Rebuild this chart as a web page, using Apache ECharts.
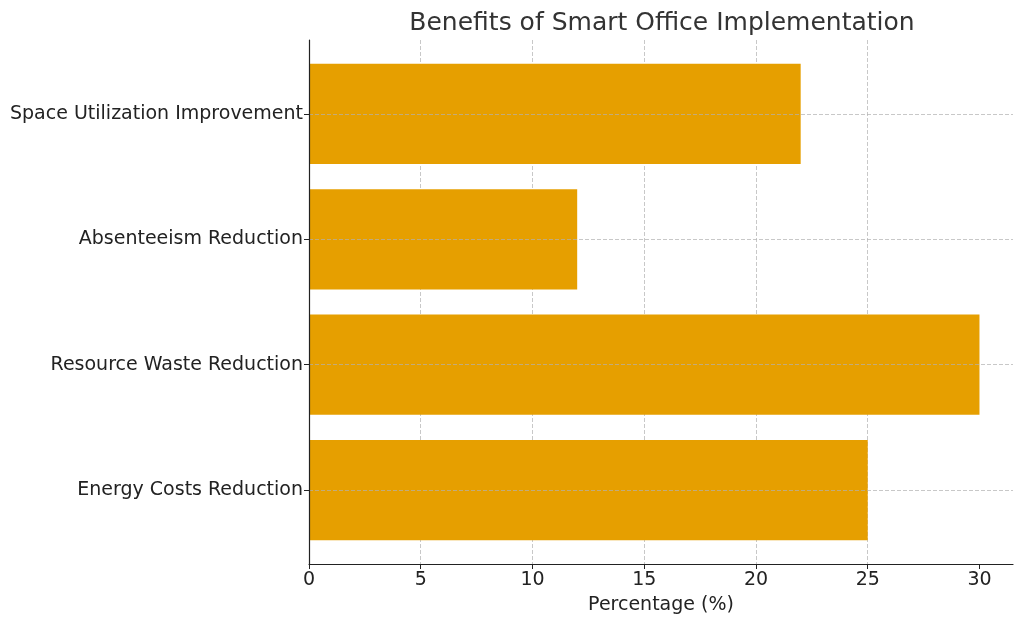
<!DOCTYPE html>
<html>
<head>
<meta charset="utf-8">
<script src="https://cdn.jsdelivr.net/npm/echarts@6/dist/echarts.min.js"></script>
<style>
html,body{margin:0;padding:0;background:#fff;}
#main{width:1024px;height:624px;}
</style>
</head>
<body>
<div id="main"></div>
<script>
// bottom -> top, same order as the plot
var categories = ['Energy Costs Reduction', 'Resource Waste Reduction', 'Absenteeism Reduction', 'Space Utilization Improvement'];
var percentages = [25, 30, 12, 22];
var xTicks = [0, 5, 10, 15, 20, 25, 30];
var yTicks = [0, 1, 2, 3];

var barColor = '#E69F00';
var font = 'DejaVu Sans';

var chart = echarts.init(document.getElementById('main'));

var barData = [];
for (var i = 0; i < percentages.length; i++) {
	barData.push([percentages[i], i]);
}

var option = {
	animation: false,
	textStyle: {fontFamily: font},
	title: {
		text: 'Benefits of Smart Office Implementation',
		left: 657,
		textAlign: 'center',
		top: 6,
		textStyle: {fontFamily: font, fontSize: 25, fontWeight: 'normal', color: '#333'}
	},
	grid: {left: 309, right: 11, top: 40, bottom: 60, containLabel: false},
	xAxis: {
		type: 'value',
		min: 0,
		max: 31.5,
		interval: 5,
		name: 'Percentage (%)',
		nameLocation: 'middle',
		nameGap: 32,
		nameTextStyle: {fontFamily: font, fontSize: 19, color: '#222'},
		axisLine: {show: true, onZero: false, lineStyle: {color: '#222', width: 1.2}},
		axisTick: {show: true, length: 5, customValues: xTicks, lineStyle: {color: '#222'}},
		axisLabel: {customValues: xTicks, fontFamily: font, fontSize: 19, color: '#222', margin: 7},
		splitLine: {show: true, showMinLine: false, showMaxLine: false, lineStyle: {color: 'rgba(176,176,176,0.7)', type: [4, 2], width: 1}}
	},
	yAxis: {
		type: 'value',
		min: -0.59,
		max: 3.59,
		z: 5,
		axisLine: {show: true, onZero: false, lineStyle: {color: '#222', width: 1.2}},
		axisTick: {show: true, length: 5, customValues: yTicks, lineStyle: {color: '#222'}},
		axisLabel: {
			customValues: yTicks,
			fontFamily: font, fontSize: 19, color: '#222', margin: 6,
			padding: [4, 0, 0, 0],
			formatter: function (v) { return categories[Math.round(v)]; }
		},
		splitLine: {show: true, lineStyle: {color: 'rgba(176,176,176,0.7)', type: [4, 2], width: 1}}
	},
	series: [{
		type: 'custom',
		z: 2,
		data: barData,
		renderItem: function (params, api) {
			var p0 = api.coord([0, api.value(1) + 0.4]);
			var p1 = api.coord([api.value(0), api.value(1) - 0.4]);
			return {
				type: 'rect',
				shape: {x: p0[0], y: p0[1], width: p1[0] - p0[0], height: p1[1] - p0[1]},
				style: {fill: barColor}
			};
		}
	}]
};

chart.setOption(option);
</script>
</body>
</html>
